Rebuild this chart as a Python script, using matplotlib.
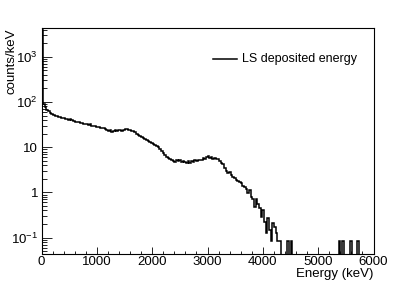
# LS deposited energy spectrum (ROOT-style histogram, log y)

import numpy as np
import matplotlib.pyplot as plt

plt.rcParams['font.family'] = ['Liberation Sans', 'DejaVu Sans']
plt.rcParams['mathtext.fontset'] = 'custom'
plt.rcParams['mathtext.rm'] = 'Liberation Sans'
plt.rcParams['mathtext.it'] = 'Liberation Sans'

# histogram binning (keV)
bin_width = 30
e_min, e_max = 0, 6000

# counts/keV for the contiguous part of the spectrum, bins 0..4290 keV
spectrum = [
    4000, 90, 76, 68, 62, 58, 55, 52, 50, 48,
    47, 46, 45, 44, 43, 42, 41, 42, 40, 38,
    37, 37, 36, 35, 34, 33, 33, 32, 31, 32,
    30, 29, 30, 28, 28, 27, 26, 27, 25, 24,
    23, 24, 22, 23, 24, 23, 24, 24, 23, 24,
    25, 25.5, 24.5, 24, 23, 23, 22, 20, 18.5, 17.5,
    16.5, 16, 15, 14.5, 13.5, 13, 12.5, 12, 11, 10.5,
    10, 9.2, 8.2, 7.3, 6.6, 6.2, 5.8, 5.5, 5.2, 4.9,
    4.8, 5.1, 4.9, 5.2, 4.7, 5.0, 4.7, 4.6, 4.9, 4.6,
    4.9, 4.7, 5.1, 4.9, 5.3, 5.1, 5.3, 5.7, 5.5, 6.0,
    6.3, 5.7, 6.0, 5.6, 5.8, 5.4, 5.5, 4.9, 4.5, 4.2,
    3.5, 3.0, 2.7, 2.8, 2.4, 2.2, 2.1, 1.9, 1.8, 1.7,
    1.6, 1.4, 1.3, 1.2, 0.95, 1.15, 0.8, 0.7, 0.48, 0.72,
    0.57, 0.45, 0.28, 0.40, 0.22, 0.13, 0.27, 0.15, 0.086, 0.21,
    0.17, 0.13, 0.086, 0.086,
]

# isolated single-count bins in the tail (bin start, keV)
tail_bins = [4440, 4500, 5370, 5430, 5580, 5700]
tail_vals = [0.086, 0.086, 0.086, 0.086, 0.086, 0.086]

ytick_vals = [0.1, 1, 10, 100, 1000]
ytick_labels = ['$10^{-1}$', '1', '10', '$10^{2}$', '$10^{3}$']

# fill the histogram
edges = np.arange(e_min, e_max + bin_width, bin_width)
counts = np.zeros(len(edges) - 1)
counts[:len(spectrum)] = spectrum
for b, v in zip(tail_bins, tail_vals):
    counts[b // bin_width] = v
floor = 1e-4  # empty bins drop below the frame like ROOT does
counts = np.where(counts > 0, counts, floor)

fig = plt.figure(figsize=(4.15, 2.82), dpi=100)
ax = fig.add_axes([0.1, 0.1, 0.8, 0.8])

ax.stairs(counts, edges, color='black', lw=1.1, baseline=floor)

ax.set_yscale('log')
ax.set_xlim(e_min, e_max)
ax.set_ylim(0.044, 4300)

ax.set_xticks(np.arange(0, 6001, 1000))
ax.set_xticks(np.arange(0, 6001, 200), minor=True)
ax.set_yticks(ytick_vals)
ax.set_yticklabels(ytick_labels)

ax.tick_params(which='both', direction='in', top=False, right=False,
               labelsize=9.5, width=0.6)
ax.tick_params(axis='x', which='major', length=4.8, pad=1.5)
ax.tick_params(axis='x', which='minor', length=2.4)
ax.tick_params(axis='y', which='major', length=7.0, pad=2.5)
ax.tick_params(axis='y', which='minor', length=3.5)
for s in ax.spines.values():
    s.set_linewidth(0.8)

# axis titles placed ROOT-style (aligned to the axis ends)
fig.text(11.5 / 415, 1 - 28 / 282, 'counts/keV', rotation=90,
         ha='center', va='top', fontsize=9.5)
fig.text(373 / 415, 1 - 267.5 / 282, 'Energy (keV)',
         ha='right', va='top', fontsize=9.5)

# legend
ax.plot([0.517, 0.589], [0.864, 0.864], color='black', lw=1.1,
        transform=ax.transAxes)
ax.text(0.6045, 0.864, 'LS deposited energy', transform=ax.transAxes,
        ha='left', va='center', fontsize=9)

fig.savefig('out.png', dpi=100)
